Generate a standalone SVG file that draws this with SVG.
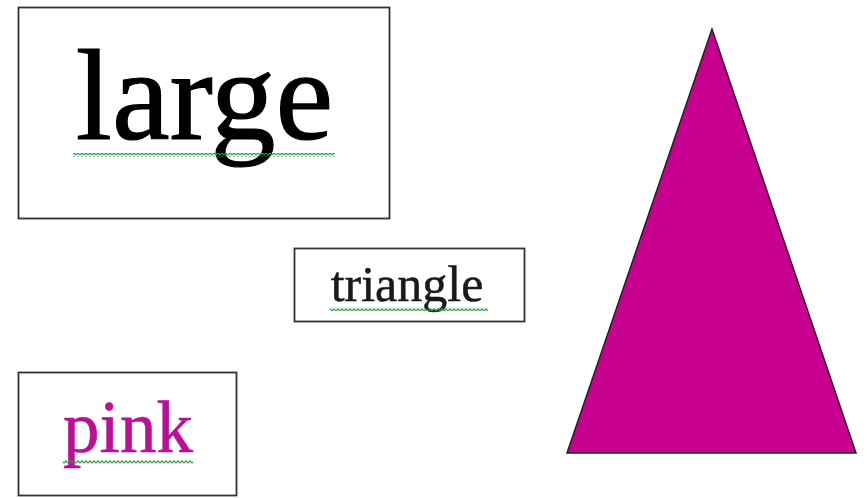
<svg xmlns="http://www.w3.org/2000/svg" width="867" height="498" viewBox="0 0 867 498">
<defs>
<pattern id="squiggle" x="0" y="0" width="4" height="4" patternUnits="userSpaceOnUse">
<polyline points="0,3.2 2,0.8 4,3.2" fill="none" stroke="#2f9a40" stroke-width="1.2"/>
</pattern>
<style>
.box{fill:#fff;stroke:#333;stroke-width:1.8}
.t{font-family:"Liberation Serif","Times New Roman",serif;text-anchor:middle}
.sq{fill:url(#squiggle)}
</style>
</defs>
<rect width="867" height="498" fill="#fff"/>
<g id="large">
<rect class="box" x="18.5" y="7.5" width="371" height="211"/>
<text class="t" x="204.5" y="139" font-size="130" fill="#000" stroke="#000" stroke-width="1.2">large</text>
<rect class="sq" x="73" y="153" width="262" height="4"/>
</g>
<g id="triangle-label">
<rect class="box" x="294.5" y="248.5" width="230" height="73"/>
<text class="t" x="407" y="301" font-size="50" fill="#1a1a1a" stroke="#1a1a1a" stroke-width="0.5">triangle</text>
<rect class="sq" x="330" y="307" width="158" height="4"/>
</g>
<g id="pink">
<rect class="box" x="18.5" y="372.5" width="218" height="123"/>
<text class="t" x="128" y="452" font-size="73" fill="#bc0f98" stroke="#bc0f98" stroke-width="0.6">pink</text>
<rect class="sq" x="63" y="460" width="130" height="4"/>
</g>
<g id="shape">
<polygon points="712,29 567,453 856,453" fill="#c8008f" stroke="#222" stroke-width="1.5" stroke-linejoin="miter"/>
</g>
<g id="connectors"/>
</svg>
